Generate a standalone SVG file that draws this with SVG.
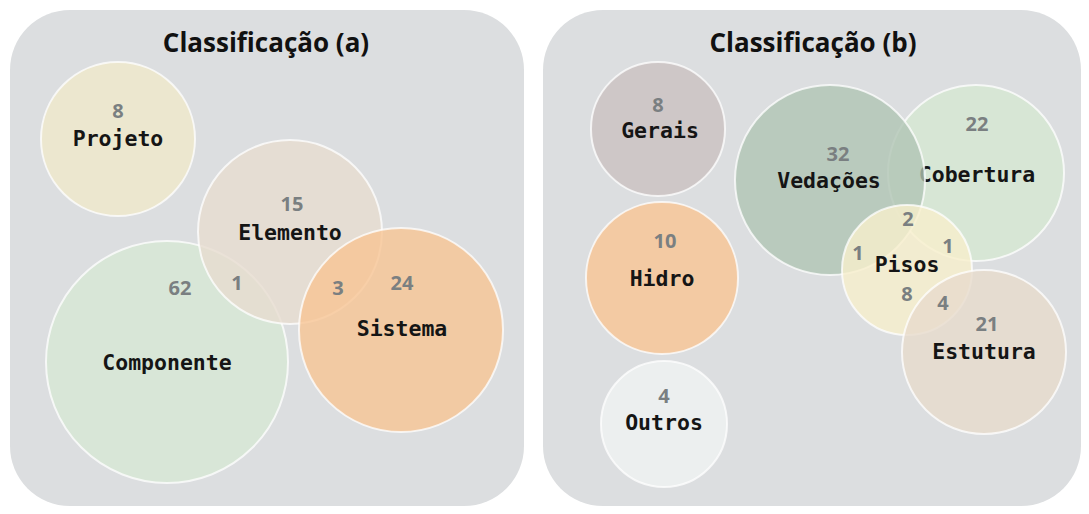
<svg xmlns="http://www.w3.org/2000/svg" width="1089" height="514" viewBox="0 0 1089 514">
<style>
.panel{fill:#dcdee0}
.title{font-family:"Open Sans","Noto Sans",sans-serif;font-weight:700;font-size:26px;fill:#111;text-anchor:middle}
.c{stroke:#ffffff;stroke-opacity:0.75;stroke-width:2;fill-opacity:0.8}
.lbl{font-family:"DejaVu Sans Mono","Liberation Mono",monospace;font-weight:bold;font-size:21.5px;fill:#151515;text-anchor:middle;dominant-baseline:central}
.num{font-family:"Open Sans","Noto Sans",sans-serif;font-weight:700;font-size:20px;fill:#7a7f81;text-anchor:middle;dominant-baseline:central}
</style>
<rect width="1089" height="514" fill="#ffffff"/>
<g id="panel-a">
<rect class="panel" x="10" y="10" width="514" height="496" rx="60" ry="60"/>
<text class="title" x="266" y="52">Classificação (a)</text>
</g>
<g id="panel-b">
<rect class="panel" x="543" y="10" width="538" height="496" rx="60" ry="60"/>
<text class="title" x="813" y="52">Classificação (b)</text>
</g>
<g id="projeto">
<circle class="c" cx="118" cy="139" r="77" fill="#f0e8cb"/>
<text class="num" x="118" y="110">8</text>
<text class="lbl" x="118" y="138">Projeto</text>
</g>
<g id="componente">
<circle class="c" cx="167" cy="362" r="121" fill="#d7e7d4"/>
<text class="num" x="180" y="287">62</text>
<text class="lbl" x="167" y="362">Componente</text>
</g>
<g id="elemento">
<circle class="c" cx="290" cy="232" r="92" fill="#e7dccf"/>
<text class="num" x="292" y="203">15</text>
<text class="lbl" x="290" y="232">Elemento</text>
</g>
<g id="sistema">
<circle class="c" cx="401" cy="330" r="102" fill="#f8c494"/>
<text class="num" x="402" y="282">24</text>
<text class="lbl" x="402" y="328">Sistema</text>
</g>
<g id="intersections-a">
<text class="num" x="237" y="282">1</text>
<text class="num" x="338" y="287">3</text>
</g>
<g id="gerais">
<circle class="c" cx="658" cy="129" r="67" fill="#cbc0c0"/>
<text class="num" x="658" y="104">8</text>
<text class="lbl" x="660" y="130">Gerais</text>
</g>
<g id="hidro">
<circle class="c" cx="662" cy="278" r="76" fill="#f9c493"/>
<text class="num" x="665" y="240">10</text>
<text class="lbl" x="662" y="278">Hidro</text>
</g>
<g id="outros">
<circle class="c" cx="664" cy="424" r="63" fill="#f0f2f3"/>
<text class="num" x="664" y="395">4</text>
<text class="lbl" x="664" y="422">Outros</text>
</g>
<g id="cobertura">
<circle class="c" cx="976" cy="173" r="88" fill="#d6e7d2"/>
<text class="num" x="977" y="123">22</text>
<text class="lbl" x="977" y="174">Cobertura</text>
</g>
<g id="vedacoes">
<circle class="c" cx="830" cy="180" r="95" fill="#b0c4b4"/>
<text class="num" x="838" y="153">32</text>
<text class="lbl" x="829" y="180">Vedações</text>
</g>
<g id="pisos">
<circle class="c" cx="907" cy="270" r="65" fill="#f7efcc" fill-opacity="0.75"/>
<text class="lbl" x="907" y="264">Pisos</text>
</g>
<g id="estutura">
<circle class="c" cx="984" cy="352" r="82" fill="#e7dbcc"/>
<text class="num" x="987" y="323">21</text>
<text class="lbl" x="984" y="351">Estutura</text>
</g>
<g id="intersections-b">
<text class="num" x="908" y="218">2</text>
<text class="num" x="858" y="252">1</text>
<text class="num" x="948" y="245">1</text>
<text class="num" x="907" y="293">8</text>
<text class="num" x="943" y="302">4</text>
</g>
</svg>
